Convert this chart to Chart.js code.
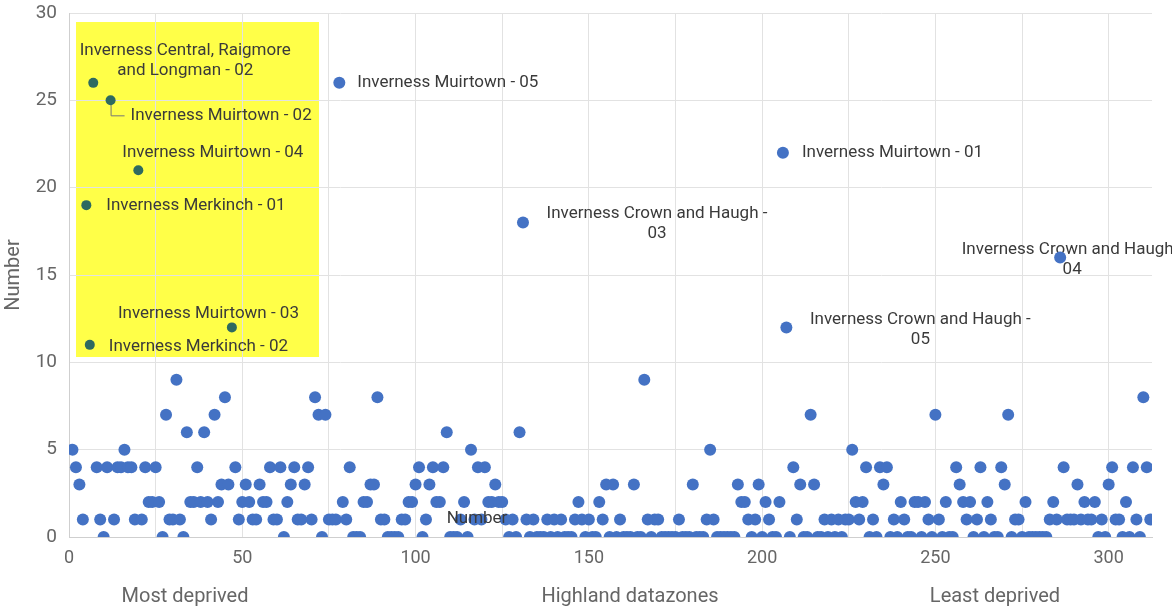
<!DOCTYPE html>
<html>
<head>
<meta charset="utf-8">
<script src="https://cdn.jsdelivr.net/npm/chart.js@4.4.1/dist/chart.umd.min.js"></script>
<style>
  html, body { margin: 0; padding: 0; background: #ffffff; }
  #wrap { width: 1172px; height: 610px; position: relative; overflow: hidden; }
</style>
</head>
<body>
<div id="wrap"><canvas id="c" width="1172" height="610"></canvas></div>
<script>
// ---------- DATA ----------
// Number per Highland datazone, ordered by deprivation rank (rank 1 = most deprived)
const numbers = [
  5, 4, 3, 1, 19, 11, 26, 4, 1, 0,
  4, 25, 1, 4, 4, 5, 4, 4, 1, 21,
  1, 4, 2, 2, 4, 2, 0, 7, 1, 1,
  9, 1, 0, 6, 2, 2, 4, 2, 6, 2,
  1, 7, 2, 3, 8, 3, 12, 4, 1, 2,
  3, 2, 1, 1, 3, 2, 2, 4, 1, 1,
  4, 0, 2, 3, 4, 1, 1, 3, 4, 1,
  8, 7, 0, 7, 1, 1, 1, 26, 2, 1,
  4, 0, 0, 0, 2, 2, 3, 3, 8, 1,
  1, 0, 0, 0, 0, 1, 1, 2, 2, 3,
  4, 0, 1, 3, 4, 2, 2, 4, 6, 0,
  0, 0, 1, 2, 0, 5, 1, 4, 1, 4,
  2, 2, 3, 2, 2, 1, 0, 1, 0, 6,
  18, 1, 0, 1, 0, 0, 0, 1, 0, 1,
  0, 1, 0, 0, 0, 1, 2, 1, 0, 1,
  0, 0, 2, 1, 3, 0, 3, 0, 1, 0,
  0, 0, 3, 0, 0, 9, 1, 0, 1, 1,
  0, 0, 0, 0, 0, 1, 0, 0, 0, 3,
  0, 0, 0, 1, 5, 1, 0, 0, 0, 0,
  0, 0, 3, 2, 2, 1, 0, 1, 3, 0,
  2, 1, 0, 0, 2, 22, 12, 0, 4, 1,
  3, 0, 0, 7, 3, 0, 0, 1, 0, 1,
  0, 1, 0, 1, 1, 5, 2, 1, 2, 4,
  0, 1, 0, 4, 3, 4, 0, 1, 0, 2,
  1, 0, 0, 2, 2, 0, 2, 1, 0, 7,
  1, 0, 2, 0, 0, 4, 3, 2, 1, 2,
  0, 1, 4, 0, 2, 1, 0, 0, 4, 3,
  7, 0, 1, 1, 0, 2, 0, 0, 0, 0,
  0, 0, 1, 2, 1, 16, 4, 1, 1, 1,
  3, 1, 2, 1, 1, 2, 0, 1, 0, 3,
  4, 1, 1, 0, 2, 0, 4, 1, 0, 8,
  4, 1
];

// ranks of the highlighted (yellow box) datazones
const highlightRanks = [5, 6, 7, 12, 20, 47];

// named datazones
const labelRanks = [7, 12, 20, 5, 47, 6, 78, 131, 206, 207, 286];
const labelTexts = [
  ["Inverness Central, Raigmore", "and Longman - 02"],
  ["Inverness Muirtown - 02"],
  ["Inverness Muirtown - 04"],
  ["Inverness Merkinch - 01"],
  ["Inverness Muirtown - 03"],
  ["Inverness Merkinch - 02"],
  ["Inverness Muirtown - 05"],
  ["Inverness Crown and Haugh -", "03"],
  ["Inverness Muirtown - 01"],
  ["Inverness Crown and Haugh -", "05"],
  ["Inverness Crown and Haugh -", "04"]
];

const xTickValues = [0, 25, 50, 75, 100, 125, 150, 175, 200, 225, 250, 275, 300];
const xLabelledTicks = [0, 50, 100, 150, 200, 250, 300];
const yTickValues = [0, 5, 10, 15, 20, 25, 30];
const bottomLabels = ["Most deprived", "Highland datazones", "Least deprived"];
const yTitle = "Number";
const strayLabel = "Number";

// ---------- STYLE ----------
const FONT = "Roboto, 'Liberation Sans', Arial, sans-serif";
const BLUE = "#4472c4";
const GREEN = "#2e6a60";
const YELLOW = "#ffff48";
const TEXT = "#3a3a3a";
const TICK = "#666666";
// label placement (pixel offsets from the point: dx, dy of first line, align)
const labelStyle = [
  { dx: 92, dy: -32, align: "center" },
  { dx: 20, dy: 15, align: "left", leader: true },
  { dx: -16, dy: -17, align: "left" },
  { dx: 20, dy: 1, align: "left" },
  { dx: -114, dy: -14, align: "left" },
  { dx: 19, dy: 2, align: "left" },
  { dx: 18, dy: 0, align: "left" },
  { dx: 134, dy: -9, align: "center" },
  { dx: 19, dy: 0, align: "left" },
  { dx: 134, dy: -8, align: "center" },
  { dx: 12, dy: -8, align: "center" }
];
const boxStyle = { left: 76, top: 22, right: 319, bottom: 357 };
const bottomLabelPos = [185, 630, 995];
const strayPos = { x: 477, y: 519 };

// ---------- CHART ----------
const points = numbers.map((v, i) => ({ x: i + 1, y: v }));
const isHi = (ctx) => ctx.raw && highlightRanks.includes(ctx.raw.x);

const boxPlugin = {
  id: "box",
  beforeDraw(chart) {
    const c = chart.ctx;
    c.save();
    c.fillStyle = YELLOW;
    c.fillRect(boxStyle.left, boxStyle.top, boxStyle.right - boxStyle.left, boxStyle.bottom - boxStyle.top);
    c.restore();
  }
};

const labelPlugin = {
  id: "labels",
  beforeDatasetsDraw(chart) {
    const c = chart.ctx;
    const meta = chart.getDatasetMeta(0);
    c.save();
    c.font = "17px " + FONT;
    c.fillStyle = TEXT;
    c.textBaseline = "middle";
    labelRanks.forEach((rank, k) => {
      const el = meta.data[rank - 1];
      const st = labelStyle[k];
      const lines = labelTexts[k];
      const x0 = el.x + st.dx;
      if (st.leader) {
        c.save();
        c.strokeStyle = "#777";
        c.lineWidth = 1;
        c.beginPath();
        c.moveTo(el.x + 0.5, el.y);
        c.lineTo(el.x + 0.5, el.y + st.dy + 0.5);
        c.lineTo(x0 - 6, el.y + st.dy + 0.5);
        c.stroke();
        c.restore();
      }
      c.textAlign = st.align === "center" ? "center" : "left";
      lines.forEach((t, j) => c.fillText(t, x0, el.y + st.dy + j * 20));
    });
    c.restore();
  },
  afterDatasetsDraw(chart) {
    const c = chart.ctx;
    c.save();
    c.font = "17px " + FONT;
    c.fillStyle = TEXT;
    c.textAlign = "center";
    c.textBaseline = "middle";
    c.fillText(strayLabel, strayPos.x, strayPos.y);
    c.restore();
  },
  afterDraw(chart) {
    const c = chart.ctx;
    c.save();
    c.font = "20px " + FONT;
    c.fillStyle = TICK;
    c.textAlign = "center";
    c.textBaseline = "middle";
    bottomLabels.forEach((t, i) => c.fillText(t, bottomLabelPos[i], 597));
    c.restore();
  }
};

new Chart(document.getElementById("c"), {
  type: "scatter",
  data: {
    datasets: [{
      data: points,
      pointRadius: (ctx) => isHi(ctx) ? 5 : 6,
      pointHoverRadius: (ctx) => isHi(ctx) ? 5 : 6,
      pointBackgroundColor: (ctx) => isHi(ctx) ? GREEN : BLUE,
      pointBorderWidth: 0,
      pointBorderColor: "rgba(0,0,0,0)"
    }]
  },
  options: {
    responsive: false,
    animation: false,
    events: [],
    layout: { autoPadding: false, padding: { top: 13, right: 20, left: 0, bottom: 0 } },
    plugins: { legend: { display: false }, tooltip: { enabled: false } },
    scales: {
      x: {
        type: "linear",
        min: 0,
        max: 312.5,
        afterBuildTicks: (s) => { s.ticks = xTickValues.map(v => ({ value: v })); },
        afterFit: (s) => { s.height = 73; s.paddingLeft = 0; s.paddingRight = 0; },
        ticks: {
          autoSkip: false,
          maxRotation: 0,
          padding: 11,
          color: TICK,
          font: { family: FONT, size: 18 },
          callback: (v) => xLabelledTicks.includes(v) ? String(v) : ""
        },
        grid: { color: "#e2e2e2", drawTicks: false, lineWidth: 1 },
        border: { color: "#cfcfcf" }
      },
      y: {
        min: 0,
        max: 30,
        afterBuildTicks: (s) => { s.ticks = yTickValues.map(v => ({ value: v })); },
        afterFit: (s) => { s.width = 69; s.paddingTop = 0; s.paddingBottom = 0; },
        ticks: {
          padding: 12,
          color: TICK,
          font: { family: FONT, size: 19 },
          callback: (v) => String(v)
        },
        title: {
          display: true,
          text: yTitle,
          color: TICK,
          font: { family: FONT, size: 20 },
          padding: { top: 2, bottom: 4 }
        },
        grid: { color: "#e2e2e2", drawTicks: false },
        border: { color: "#cfcfcf" }
      }
    }
  },
  plugins: [boxPlugin, labelPlugin]
});
</script>
</body>
</html>
